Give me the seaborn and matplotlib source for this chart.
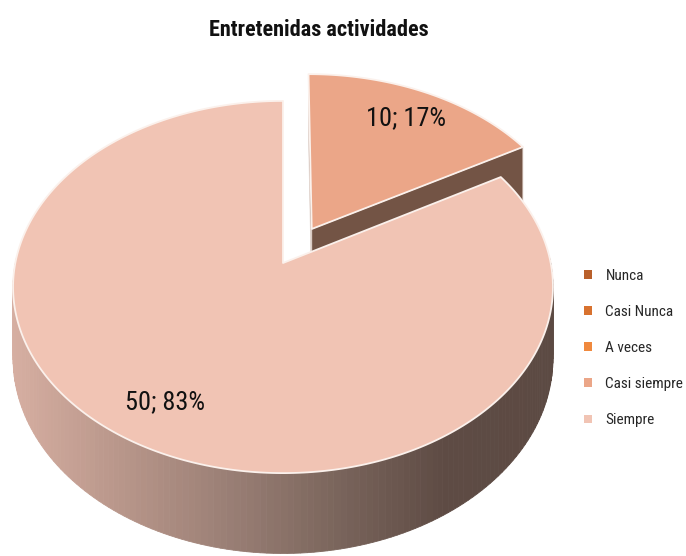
#!/usr/bin/env python3
"""3D-style exploded pie of how often the activities are found entertaining."""

import numpy as np
import matplotlib
matplotlib.use("Agg")
import matplotlib.pyplot as plt
from matplotlib.patches import Patch, Polygon
import seaborn as sns


TITLE = "Entretenidas actividades"
CATEGORIES = ["Nunca", "Casi Nunca", "A veces", "Casi siempre", "Siempre"]
COUNTS = [0, 0, 0, 10, 50]
EXPLODE = [0.0, 0.0, 0.0, 0.22, 0.0]
TOP_COLORS = ["#b9602b", "#d8722f", "#f0893e", "#eba688", "#f1c4b4"]
SIDE_STOPS = ["#d6aea1", "#b8968a", "#9a7f75", "#7a655c", "#5e4b44", "#5c4a43"]
WALL_COLOR = "#735445"

# projection of the pie plane (pixel space, y grows downwards)
CX, CY = 283.0, 263.0
RX, RY, PERSP = 267.7, 183.0, 0.129
DEPTH = 70.0
LABEL_R = 0.8

sns.set_theme(style="white")
plt.rcParams["font.family"] = [
    "Liberation Sans Narrow", "DejaVu Sans Condensed", "Roboto Condensed", "Lato", "DejaVu Sans"
]


def _project(u, v, drop=0.0):
    w = 1.0 + PERSP * np.asarray(v)
    x = CX + RX * np.asarray(u) / w
    y = CY + (drop - RY * np.asarray(v)) / w
    return x, y


def _slices():
    total = sum(COUNTS)
    start = 0.0
    out = []
    for name, cnt, exp, col in zip(CATEGORIES, COUNTS, EXPLODE, TOP_COLORS):
        span = 360.0 * cnt / total
        if cnt > 0:
            mid = np.deg2rad(start + span / 2)
            out.append(
                dict(
                    name=name,
                    count=cnt,
                    pct=round(100 * cnt / total),
                    t0=np.deg2rad(start),
                    t1=np.deg2rad(start + span),
                    off=(exp * np.sin(mid), exp * np.cos(mid)),
                    mid=mid,
                    color=col,
                )
            )
        start += span
    return out


def main() -> None:
    fig = plt.figure(figsize=(6.86, 5.56), dpi=100)
    ax = fig.add_axes([0, 0, 1, 1])
    ax.set_xlim(0, 686)
    ax.set_ylim(556, 0)
    ax.axis("off")

    side_cmap = sns.blend_palette(SIDE_STOPS, as_cmap=True)
    slices = _slices()

    # outer side walls (front half only)
    for s in slices:
        th = np.linspace(s["t0"], s["t1"], 240)
        u = s["off"][0] + np.sin(th)
        v = s["off"][1] + np.cos(th)
        xt, yt = _project(u, v)
        xb, yb = _project(u, v, DEPTH)
        for i in range(len(th) - 1):
            if np.cos(th[i]) > 0.02 and np.cos(th[i + 1]) > 0.02:
                continue
            xm = 0.5 * (xt[i] + xt[i + 1])
            col = side_cmap(np.clip((xm - 12) / (553 - 12), 0, 1))
            quad = [(xt[i], yt[i]), (xt[i + 1], yt[i + 1]), (xb[i + 1], yb[i + 1]), (xb[i], yb[i])]
            ax.add_patch(Polygon(quad, closed=True, facecolor=col, edgecolor=col, lw=0.6))

    # radial walls that face the viewer
    cam = np.array([0.0, -1.0 / PERSP])
    for s in slices:
        ou, ov = s["off"]
        for t, sign, col in ((s["t0"], -1, "#8a6a5c"), (s["t1"], 1, WALL_COLOR)):
            normal = sign * np.array([np.cos(t), -np.sin(t)])
            mid_pt = np.array([ou + 0.5 * np.sin(t), ov + 0.5 * np.cos(t)])
            if normal @ (cam - mid_pt) <= 0.05:
                continue
            u = np.array([ou, ou + np.sin(t)])
            v = np.array([ov, ov + np.cos(t)])
            xt, yt = _project(u, v)
            xb, yb = _project(u, v, DEPTH)
            quad = [(xt[0], yt[0]), (xt[1], yt[1]), (xb[1], yb[1]), (xb[0], yb[0])]
            ax.add_patch(Polygon(quad, closed=True, facecolor=col, edgecolor="#e8dcd6", lw=0.6))

    # top faces
    for s in slices:
        th = np.linspace(s["t0"], s["t1"], 360)
        ou, ov = s["off"]
        xa, ya = _project(ou, ov)
        xt, yt = _project(ou + np.sin(th), ov + np.cos(th))
        pts = [(float(xa), float(ya))] + list(zip(xt, yt))
        ax.add_patch(
            Polygon(pts, closed=True, facecolor=s["color"], edgecolor="#fbf1ec",
                    lw=1.3, joinstyle="round")
        )
        lx, ly = _project(ou + LABEL_R * np.sin(s["mid"]), ov + LABEL_R * np.cos(s["mid"]))
        ax.text(float(lx), float(ly), f"{s['count']}; {s['pct']}%", ha="center", va="center",
                fontsize=19, color="#111111")

    ax.text(319, 30, TITLE, ha="center", va="center", fontsize=16, fontweight="bold",
            color="#111111")

    handles = [Patch(facecolor=c, edgecolor="none", label=n) for n, c in zip(CATEGORIES, TOP_COLORS)]
    ax.legend(
        handles=handles,
        loc="center left",
        bbox_to_anchor=(584 / 686, 1 - 348 / 556),
        frameon=False,
        fontsize=11,
        handlelength=0.5,
        handleheight=0.5,
        handletextpad=0.9,
        labelspacing=1.45,
        borderpad=0,
        borderaxespad=0,
    )

    fig.savefig("out.png", dpi=100)
    plt.close(fig)


if __name__ == "__main__":
    main()
